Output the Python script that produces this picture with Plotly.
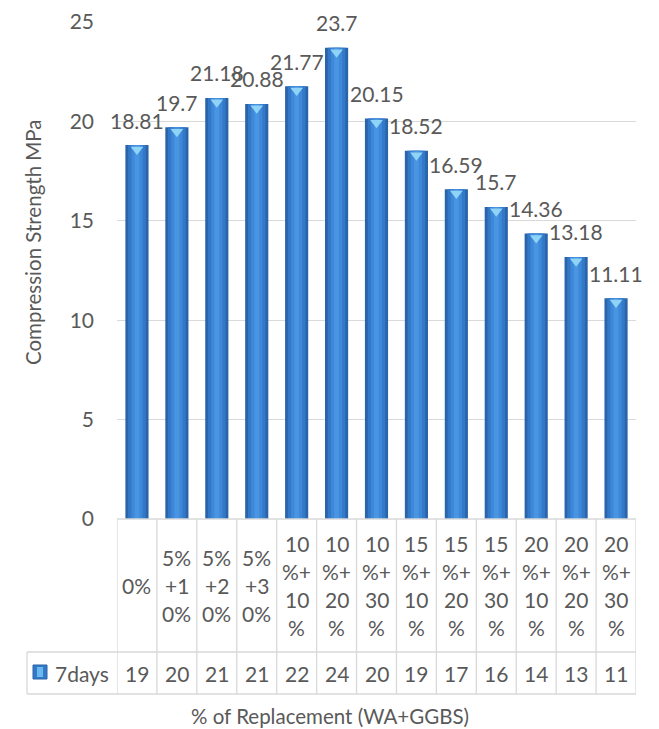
import plotly.graph_objects as go

categories = ["0%", "5%<br>+1<br>0%", "5%<br>+2<br>0%", "5%<br>+3<br>0%",
              "10<br>%+<br>10<br>%", "10<br>%+<br>20<br>%", "10<br>%+<br>30<br>%",
              "15<br>%+<br>10<br>%", "15<br>%+<br>20<br>%", "15<br>%+<br>30<br>%",
              "20<br>%+<br>10<br>%", "20<br>%+<br>20<br>%", "20<br>%+<br>30<br>%"]
values_7days = [18.81, 19.7, 21.18, 20.88, 21.77, 23.7, 20.15, 18.52, 16.59, 15.7, 14.36, 13.18, 11.11]
series_name = "7days"
y_ticks = [0, 5, 10, 15, 20, 25]
y_title = "Compression Strength MPa"
x_title = "% of Replacement (WA+GGBS)"

W, H = 659, 729
L, R, T, B = 117, 636, 22, 519
FONT = "Lato"
GREY = "#595959"
LINE = "#d9d9d9"
FS = 21
TFS = 20.5

def py(p):
    return (B - p) / (B - T)

def px(p):
    return (p - L) / (R - L)

n = len(categories)
xs = list(range(n))

fig = go.Figure()
# cylinder-like shading with layered bars
for w, c in [(0.58, "#2a64aa"), (0.44, "#3479c8"), (0.28, "#3d88d8"), (0.12, "#4a95e2")]:
    fig.add_trace(go.Bar(x=xs, y=values_7days, width=w, marker=dict(color=c, line=dict(width=0)),
                         showlegend=False, hoverinfo="skip"))
# light cap at the top of each bar
fig.add_trace(go.Scatter(x=xs, y=[v - 0.22 for v in values_7days], mode="markers",
                         marker=dict(symbol="triangle-down", size=11, color="#8fd3f7", line=dict(width=0)),
                         showlegend=False, hoverinfo="skip", cliponaxis=False))

annotations = []
# data labels
for x, v in zip(xs, values_7days):
    annotations.append(dict(x=x, y=v, xref="x", yref="y", text=f"{v:g}", showarrow=False,
                            yshift=25, font=dict(family=FONT, size=FS, color=GREY)))
# category labels in table
cell_mid = (B + 652) / 2
for x, cat in zip(xs, categories):
    lines = cat.split("<br>")
    k = len(lines)
    for j, ln in enumerate(lines):
        off = (j - (k - 1) / 2) * 28.3
        annotations.append(dict(x=x, y=py(cell_mid + off), xref="x", yref="paper", text=ln,
                                showarrow=False, yanchor="middle",
                                font=dict(family=FONT, size=FS, color=GREY)))
# data row
for x, v in zip(xs, values_7days):
    annotations.append(dict(x=x, y=py(673), xref="x", yref="paper", text=f"{round(v)}",
                            showarrow=False, yanchor="middle",
                            font=dict(family=FONT, size=FS, color=GREY)))
# legend key text
annotations.append(dict(x=px(53), y=py(673), xref="paper", yref="paper", text=series_name,
                        showarrow=False, xanchor="left", yanchor="middle",
                        font=dict(family=FONT, size=FS, color=GREY)))
# axis titles
annotations.append(dict(x=px(33), y=py(242), xref="paper", yref="paper", text=y_title,
                        showarrow=False, textangle=-90, xanchor="center", yanchor="middle",
                        font=dict(family=FONT, size=TFS, color=GREY)))
annotations.append(dict(x=px(330), y=py(716), xref="paper", yref="paper", text=x_title,
                        showarrow=False, xanchor="center", yanchor="middle",
                        font=dict(family=FONT, size=TFS, color=GREY)))

shapes = []
line = dict(color=LINE, width=1.3)
for i in range(n + 1):
    shapes.append(dict(type="line", xref="x", yref="paper", x0=i - 0.5, x1=i - 0.5,
                       y0=py(B), y1=py(694), line=line))
for yy in (652, 694):
    shapes.append(dict(type="line", xref="paper", yref="paper", x0=px(27), x1=px(R),
                       y0=py(yy), y1=py(yy), line=line))
shapes.append(dict(type="line", xref="paper", yref="paper", x0=px(27), x1=px(27),
                   y0=py(652), y1=py(694), line=line))
shapes.append(dict(type="line", xref="paper", yref="paper", x0=0, x1=1,
                   y0=0, y1=0, line=line))
# legend key swatch
shapes.append(dict(type="rect", xref="paper", yref="paper", x0=px(33), x1=px(47),
                   y0=py(679), y1=py(665), fillcolor="#3479c8", line=dict(color="#2a64aa", width=1)))
shapes.append(dict(type="rect", xref="paper", yref="paper", x0=px(37), x1=px(43),
                   y0=py(677), y1=py(667), fillcolor="#6ab8ee", line=dict(width=0)))

fig.update_layout(
    width=W, height=H,
    margin=dict(l=L, r=W - R, t=T, b=H - B, autoexpand=False),
    paper_bgcolor="white", plot_bgcolor="white",
    barmode="overlay",
    showlegend=False,
    font=dict(family=FONT, size=FS, color=GREY),
    xaxis=dict(range=[-0.5, n - 0.5], showticklabels=False, showgrid=False, zeroline=False,
               showline=False, ticks="", fixedrange=True),
    yaxis=dict(range=[0, 25], tickvals=y_ticks, showgrid=True, gridcolor=LINE, gridwidth=1.3,
               zeroline=False, showline=False, ticks="", ticklabelstandoff=22,
               tickfont=dict(family=FONT, size=FS, color=GREY), fixedrange=True),
    annotations=annotations,
    shapes=shapes,
)

fig.write_html("out.html")
